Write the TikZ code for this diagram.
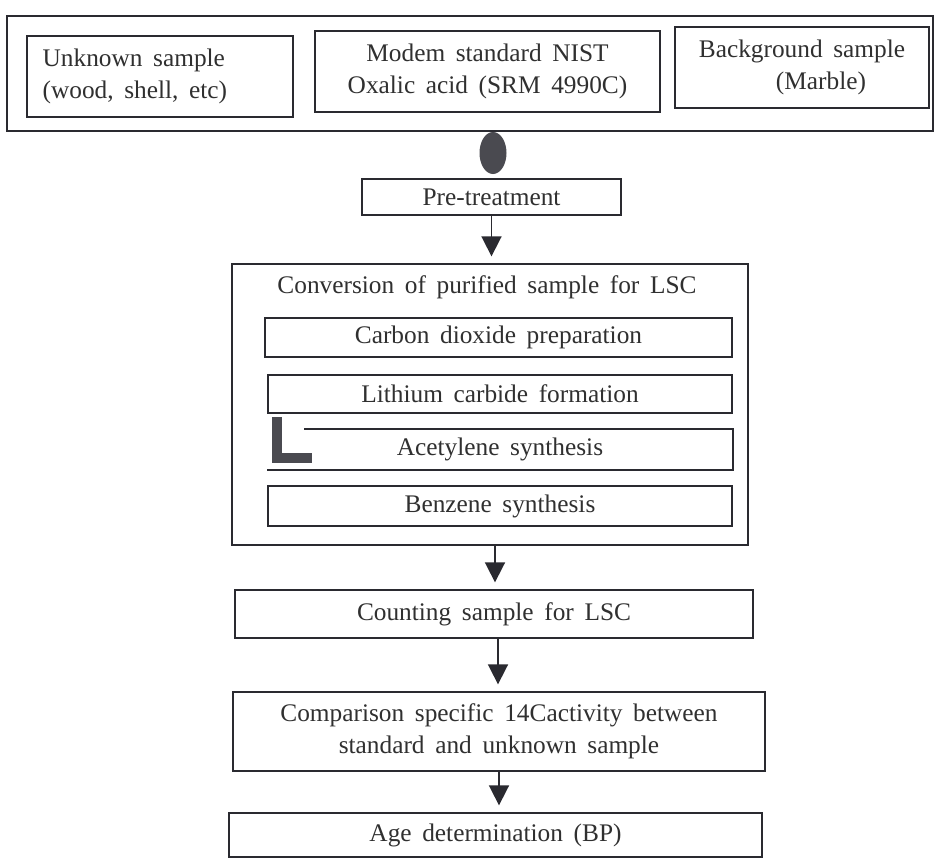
\documentclass[tikz,border=0pt]{standalone}
\usepackage{fontspec}
\setmainfont{Liberation Serif}
\usepackage{xcolor}
\usepackage{tikz}
\usetikzlibrary{arrows.meta,shapes.geometric}
\definecolor{ink}{HTML}{2A2A30}
\definecolor{print}{HTML}{303030}
\definecolor{blot}{HTML}{4A4A50}
\newcommand{\widespace}{\spaceskip=0.42em plus 0.1em\relax}
\tikzset{
  boxline/.style={draw=ink, line width=1.5pt},
  label/.style={
    text=print,
    font=\fontsize{19}{24}\selectfont,
    execute at begin node=\widespace
  },
  stepbox/.style={
    boxline,
    label,
    fill=white,
    inner sep=0pt,
    align=center
  },
  source/.style={stepbox, minimum height=60.75pt},
  flow/.style={draw=ink, line width=1.3pt, shorten >=5pt, -{Triangle[length=15pt, width=15pt]}}
}

\begin{document}
\begin{tikzpicture}[x=0.75pt,y=-0.75pt]
\path[use as bounding box] (0,0) rectangle (936,860);
\fill[white] (0,0) rectangle (936,860);

% samples
\node[boxline, minimum width=694.5pt, minimum height=86.25pt] (samples) at (470,73.5) {};
\node[source, minimum width=199.5pt, align=left, text width=176pt] (unknown) at (160,76.5)
  {Unknown sample\\(wood, shell, etc)};
\node[source, minimum width=258.75pt] (modem) at (487.5,71.5)
  {Modem standard NIST\\Oxalic acid (SRM 4990C)};
\node[source, minimum width=190.5pt] (marble) at (802,67.5)
  {Background sample\\\hspace*{1.5em}(Marble)};
\node[ellipse, fill=blot, minimum width=20.25pt, minimum height=31.5pt, inner sep=0pt] (dot) at (493,153) {};

\node[stepbox, minimum width=194.25pt, minimum height=27pt] (pretreat) at (491.5,197) {Pre-treatment};

% conversion for LSC
\node[boxline, minimum width=387pt, minimum height=210.75pt] (convbox) at (490,404.5) {};
\node[label] (convtitle) at (487,287) {Conversion of purified sample for LSC};
\node[stepbox, minimum width=350.25pt, minimum height=29.25pt] (carbon) at (498.5,337.5) {Carbon dioxide preparation};
\node[stepbox, minimum width=348pt, minimum height=28.5pt] (lithium) at (500,394) {Lithium carbide formation};
\node[stepbox, draw=none, minimum width=348pt, minimum height=29.25pt] (acet) at (500,449.5) {Acetylene synthesis};
\draw[boxline] ([xshift=27.75pt]acet.north west) -- (acet.north east) -- (acet.south east) -- (acet.south west);
\node[stepbox, minimum width=348pt, minimum height=30pt] (benzene) at (500,506) {Benzene synthesis};
\draw[line width=7.5pt, blot] (277,417) -- (277,458) -- (312,458);

\node[stepbox, minimum width=388.5pt, minimum height=36pt] (counting) at (494,614) {Counting sample for LSC};
\node[stepbox, minimum width=399pt, minimum height=59.25pt] (compare) at (499,731.5)
  {Comparison specific 14Cactivity between\\standard and unknown sample};
\node[stepbox, minimum width=399.75pt, minimum height=33pt] (age) at (495.5,835) {Age determination (BP)};

\draw[flow] (pretreat.south) -- (pretreat.south |- convbox.north);
\draw[flow] (convbox.south) ++(5,0) coordinate (convout) -- (convout |- counting.north);
\draw[flow] (counting.south) ++(4,0) coordinate (countout) -- (countout |- compare.north);
\draw[flow] (compare.south) -- (compare.south |- age.north);
\end{tikzpicture}
\end{document}
